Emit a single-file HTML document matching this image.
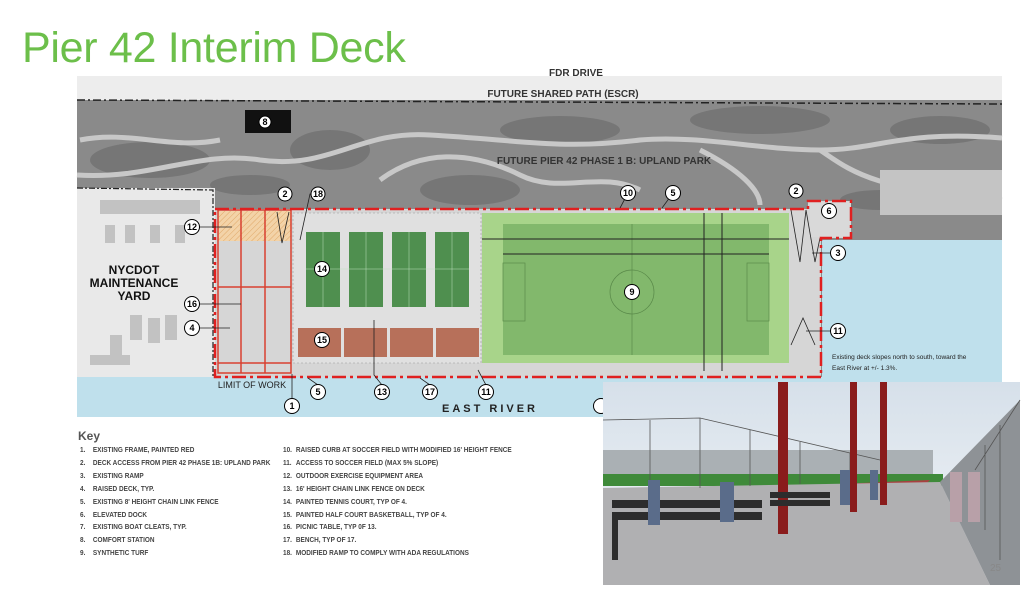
<!DOCTYPE html>
<html><head><meta charset="utf-8"><style>
html,body{margin:0;padding:0;background:#fff;width:1022px;height:589px;overflow:hidden;font-family:"Liberation Sans",sans-serif}
.t{position:absolute;left:22px;top:24px;font-size:43px;color:#6cbf4a;letter-spacing:-0.3px}
.key{position:absolute;font-size:7px;font-weight:bold;color:#444;line-height:12.9px;white-space:nowrap;transform:scaleX(0.92);transform-origin:left top}
.key span{display:inline-block;width:14px}
</style></head><body>
<div class="t">Pier 42 Interim Deck</div>
<svg width="1022" height="589" style="position:absolute;left:0;top:0" font-family="Liberation Sans,sans-serif">
<defs>
<linearGradient id="sky" x1="0" y1="0" x2="0" y2="1"><stop offset="0" stop-color="#d6e0ea"/><stop offset="1" stop-color="#f3f5f7"/></linearGradient>
<pattern id="hatch" width="4" height="4" patternUnits="userSpaceOnUse" patternTransform="rotate(45)"><rect width="4" height="4" fill="#f3d3a8"/><line x1="0" y1="0" x2="0" y2="4" stroke="#e0a868" stroke-width="1"/></pattern>
</defs>
<rect x="77" y="76" width="925" height="341" fill="#8a8a8a"/>
<rect x="77" y="76" width="925" height="24" fill="#ededed"/>
<g fill="#6e6e6e" opacity="0.7">
<ellipse cx="150" cy="160" rx="60" ry="18"/><ellipse cx="330" cy="150" rx="40" ry="20"/><ellipse cx="470" cy="190" rx="50" ry="15"/><ellipse cx="560" cy="130" rx="60" ry="14"/><ellipse cx="760" cy="120" rx="70" ry="14"/><ellipse cx="940" cy="130" rx="50" ry="14"/><ellipse cx="880" cy="200" rx="40" ry="10"/><ellipse cx="250" cy="185" rx="40" ry="10"/>
</g>
<path d="M77 100 L1002 104" stroke="#222" stroke-width="1.5" stroke-dasharray="8,3,2,3"/>
<g fill="none" stroke="#c8c8c8" stroke-width="5">
<path d="M77 175 C150 180 200 150 260 160 C330 170 360 130 430 135 C520 140 560 150 640 140 C700 135 760 150 820 150 C880 150 900 130 1002 138"/>
<path d="M80 140 C130 130 170 150 220 140"/>
<path d="M380 180 C420 150 470 150 520 175 C560 195 600 170 640 190"/>
<path d="M700 150 C740 170 760 190 760 205"/>
<path d="M820 150 C850 170 870 190 1002 200"/>
</g>
<rect x="245" y="110" width="46" height="23" fill="#111"/>
<rect x="880" y="170" width="122" height="45" fill="#c4c4c4"/>
<rect x="77" y="188" width="138" height="190" fill="#e9e9e9"/>
<path d="M77 188 L213 190 L213 378" fill="none" stroke="#222" stroke-width="1.2" stroke-dasharray="6,2,2,2"/>
<g fill="#c2c2c2"><rect x="100" y="200" width="100" height="14"/><rect x="105" y="225" width="10" height="18"/><rect x="125" y="225" width="10" height="18"/><rect x="150" y="225" width="10" height="18"/><rect x="175" y="225" width="10" height="18"/><rect x="130" y="315" width="12" height="25"/><rect x="148" y="318" width="12" height="25"/><rect x="165" y="315" width="12" height="25"/><rect x="110" y="335" width="12" height="25"/><rect x="90" y="355" width="40" height="10"/></g>
<rect x="77" y="377" width="925" height="40" fill="#bfe0ec"/>
<rect x="822" y="240" width="180" height="140" fill="#bfe0ec"/>
<path d="M215 209 L808 209 L808 201 L851 201 L851 238 L821 238 L821 377 L215 377 Z" fill="#d6d6d6"/>
<rect x="293" y="213" width="188" height="150" fill="#e0e0e0" stroke="#999" stroke-width="0.6" stroke-dasharray="2,2"/>
<rect x="218" y="211" width="73" height="30" fill="url(#hatch)"/>
<g fill="#4f8f4f"><rect x="306" y="232" width="34" height="75"/><rect x="349" y="232" width="34" height="75"/><rect x="392" y="232" width="34" height="75"/><rect x="435" y="232" width="34" height="75"/></g>
<g stroke="#bfe0bf" stroke-width="0.5" fill="none"><path d="M323 232V307M366 232V307M409 232V307M452 232V307M306 269H469"/></g>
<g fill="#b7705a"><rect x="298" y="328" width="43" height="29"/><rect x="344" y="328" width="43" height="29"/><rect x="390" y="328" width="43" height="29"/><rect x="436" y="328" width="43" height="29"/></g>
<rect x="482" y="213" width="307" height="150" fill="#a8d48a"/>
<rect x="503" y="224" width="266" height="131" fill="#82b86c"/>
<g fill="none" stroke="#5a8a4a" stroke-width="0.7"><circle cx="632" cy="292" r="22"/><line x1="632" y1="224" x2="632" y2="355"/><rect x="503" y="263" width="22" height="58"/><rect x="747" y="263" width="22" height="58"/></g>
<g stroke="#222" stroke-width="1"><line x1="482" y1="239" x2="789" y2="239"/><line x1="503" y1="254" x2="769" y2="254"/><line x1="704" y1="213" x2="704" y2="371"/><line x1="722" y1="213" x2="722" y2="371"/></g>
<rect x="810" y="202" width="40" height="35" fill="#d9d9d9"/>
<g stroke="#222" stroke-width="0.8" fill="none"><path d="M791 210 L800 262 L806 210 L815 262 L820 238"/><path d="M791 345 L803 318 L815 345"/><path d="M277 212 L282 243 L289 212"/></g>
<g stroke="#d84030" stroke-width="1.5" fill="none"><rect x="218" y="210" width="73" height="163"/><path d="M218 287H291M241 210V373M265 210V373M218 363H291"/></g>
<path d="M215 209 L808 209 L808 201 L851 201 L851 238 L821 238 L821 377 L215 377 Z" fill="none" stroke="#e02020" stroke-width="2.5" stroke-dasharray="14,4,3,4"/>
<g font-weight="bold" fill="#333" text-anchor="middle">
<text x="576" y="76" font-size="10">FDR DRIVE</text>
<text x="563" y="97" font-size="10">FUTURE SHARED PATH (ESCR)</text>
<text x="604" y="164" font-size="10">FUTURE PIER 42 PHASE 1 B:  UPLAND PARK</text>
<text x="134" y="274" font-size="12" fill="#111">NYCDOT</text>
<text x="134" y="287" font-size="12" fill="#111">MAINTENANCE</text>
<text x="134" y="300" font-size="12" fill="#111">YARD</text>
<text x="252" y="388" font-size="9" fill="#222" font-weight="normal">LIMIT OF WORK</text>
<text x="490" y="412" font-size="11" fill="#222" letter-spacing="3">EAST RIVER</text>
</g>
<text x="832" y="359" font-size="6.5" fill="#222">Existing deck slopes north to south,  toward the</text>
<text x="832" y="370" font-size="6.5" fill="#222">East River at +/- 1.3%.</text>
<g stroke="#222" stroke-width="0.8" fill="none">
<path d="M199 227H232M199 304H241M199 328H230M292 399V374M318 385L308 378M382 385L374 375V320M430 385L420 378M486 385L478 370M628 193L620 208M673 193L662 208M838 253H812M838 331H806M318 194L310 194L300 240"/>
</g>
<g font-size="9" font-weight="bold" text-anchor="middle" fill="#000">
<g stroke="#000" stroke-width="1" fill="#fff">
<circle cx="265" cy="122" r="6"/><circle cx="285" cy="194" r="7"/><circle cx="318" cy="194" r="7"/><circle cx="192" cy="227" r="7.5"/><circle cx="322" cy="269" r="7.5"/><circle cx="192" cy="304" r="7.5"/><circle cx="192" cy="328" r="7.5"/><circle cx="322" cy="340" r="7.5"/><circle cx="292" cy="406" r="7.5"/><circle cx="318" cy="392" r="7.5"/><circle cx="382" cy="392" r="7.5"/><circle cx="430" cy="392" r="7.5"/><circle cx="486" cy="392" r="7.5"/><circle cx="628" cy="193" r="7.5"/><circle cx="673" cy="193" r="7.5"/><circle cx="796" cy="191" r="7"/><circle cx="829" cy="211" r="7.5"/><circle cx="838" cy="253" r="7.5"/><circle cx="632" cy="292" r="7.5"/><circle cx="838" cy="331" r="7.5"/><circle cx="601" cy="406" r="7.5"/>
</g>
<text x="265" y="125">8</text><text x="285" y="197">2</text><text x="318" y="197">18</text><text x="192" y="230">12</text><text x="322" y="272">14</text><text x="192" y="307">16</text><text x="192" y="331">4</text><text x="322" y="343">15</text><text x="292" y="409">1</text><text x="318" y="395">5</text><text x="382" y="395">13</text><text x="430" y="395">17</text><text x="486" y="395">11</text><text x="628" y="196">10</text><text x="673" y="196">5</text><text x="796" y="194">2</text><text x="829" y="214">6</text><text x="838" y="256">3</text><text x="632" y="295">9</text><text x="838" y="334">11</text>
</g>
<g>
<rect x="603" y="382" width="417" height="203" fill="url(#sky)"/>
<rect x="603" y="450" width="330" height="30" fill="#aab0b4"/>
<rect x="603" y="474" width="340" height="12" fill="#3f8a3a"/>
<path d="M700 490 L930 480 L915 495 L720 500 Z" fill="#a84040"/>
<path d="M603 488 L940 482 L990 585 L603 585 Z" fill="#b0b0b2"/>
<path d="M940 482 L1020 400 L1020 585 L990 585 Z" fill="#8e9296"/>
<g stroke="#555" stroke-width="0.8" fill="none"><path d="M603 420 L700 418 L880 460 M650 420V490M700 418V488M750 430V486M800 442V484M850 453V482M1020 400 L975 470 M1000 425V560M985 445V530"/></g>
<rect x="778" y="382" width="10" height="152" fill="#8a1c1c"/>
<rect x="850" y="382" width="7" height="130" fill="#8a1c1c"/>
<rect x="880" y="382" width="7" height="123" fill="#8a1c1c"/>
<g fill="#2d2d2d"><rect x="612" y="500" width="150" height="8"/><rect x="612" y="512" width="150" height="8"/><rect x="612" y="520" width="6" height="40"/><rect x="770" y="492" width="60" height="6"/><rect x="770" y="500" width="60" height="6"/></g>
<g fill="#5a6c8a"><rect x="648" y="480" width="12" height="45"/><rect x="720" y="482" width="14" height="40"/><rect x="840" y="470" width="10" height="35"/><rect x="870" y="470" width="8" height="30"/></g>
<g fill="#b8a0a8"><rect x="950" y="472" width="12" height="50"/><rect x="968" y="472" width="12" height="50"/></g>
<text x="990" y="571" font-size="10" fill="#888">25</text>
</g>
</svg>
<div class="key" style="left:78px;top:430px;font-size:12px;color:#555;transform:none">Key</div>
<div class="key" style="left:80px;top:445px">
<div><span>1.</span>EXISTING FRAME, PAINTED RED</div>
<div><span>2.</span>DECK ACCESS FROM PIER 42 PHASE 1B: UPLAND PARK</div>
<div><span>3.</span>EXISTING RAMP</div>
<div><span>4.</span>RAISED DECK, TYP.</div>
<div><span>5.</span>EXISTING 8' HEIGHT CHAIN LINK FENCE</div>
<div><span>6.</span>ELEVATED DOCK</div>
<div><span>7.</span>EXISTING BOAT CLEATS, TYP.</div>
<div><span>8.</span>COMFORT STATION</div>
<div><span>9.</span>SYNTHETIC TURF</div>
</div>
<div class="key" style="left:283px;top:445px">
<div><span>10.</span>RAISED CURB AT SOCCER FIELD WITH MODIFIED 16' HEIGHT  FENCE</div>
<div><span>11.</span>ACCESS TO SOCCER FIELD (MAX 5% SLOPE)</div>
<div><span>12.</span>OUTDOOR EXERCISE EQUIPMENT AREA</div>
<div><span>13.</span>16' HEIGHT CHAIN LINK FENCE ON DECK</div>
<div><span>14.</span>PAINTED TENNIS COURT, TYP OF 4.</div>
<div><span>15.</span>PAINTED HALF COURT BASKETBALL, TYP OF 4.</div>
<div><span>16.</span>PICNIC TABLE, TYP 0F 13.</div>
<div><span>17.</span>BENCH, TYP OF 17.</div>
<div><span>18.</span>MODIFIED RAMP TO COMPLY WITH ADA REGULATIONS</div>
</div>
</body></html>
